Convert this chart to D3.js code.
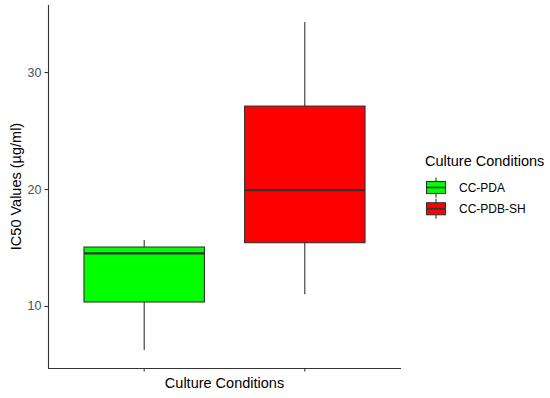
<!DOCTYPE html>
<html>
<head>
<meta charset="utf-8">
<script src="https://cdn.jsdelivr.net/npm/d3@7"></script>
<style>
  body { margin: 0; background: #fff; }
  text { font-family: "Liberation Sans", Arial, sans-serif; }
</style>
</head>
<body>
<div id="chart-area"></div>
<script>
// Datos
const categories = ["CC-PDA", "CC-PDB-SH"];
const colors = ["#00ff00", "#ff0000"];
const whiskerLow = [6.24, 11.0];
const q1 = [10.34, 15.41];
const median = [14.5, 19.9];
const q3 = [15.04, 27.09];
const whiskerHigh = [15.64, 34.27];
const yTicks = [10, 20, 30];

const data = categories.map((c, i) => ({
    name: c, color: colors[i],
    lo: whiskerLow[i], q1: q1[i], med: median[i], q3: q3[i], hi: whiskerHigh[i]
}));

const width = 550, height = 398;
const plotLeft = 48, plotRight = 401, plotTop = 5, plotBottom = 368;

const svg = d3.select("#chart-area")
    .append("svg")
    .attr("width", width)
    .attr("height", height);

// Escalas
const x = d3.scaleBand()
    .domain(categories)
    .range([plotLeft, plotRight])
    .paddingInner(0.25)
    .paddingOuter(0.224);

const xc = d => x(d) + x.bandwidth() / 2;

const y = d3.scaleLinear()
    .domain([4.70, 35.73])
    .range([plotBottom, plotTop]);

const stroke = "#333333";

// Bigotes
svg.selectAll("line.whisker")
    .data(data)
    .enter()
    .append("line")
    .attr("x1", d => xc(d.name))
    .attr("x2", d => xc(d.name))
    .attr("y1", d => y(d.lo))
    .attr("y2", d => y(d.hi))
    .attr("stroke", stroke)
    .attr("stroke-width", 1.1);

// Cajas
svg.selectAll("rect.box")
    .data(data)
    .enter()
    .append("rect")
    .attr("x", d => x(d.name))
    .attr("y", d => y(d.q3))
    .attr("width", x.bandwidth())
    .attr("height", d => y(d.q1) - y(d.q3))
    .attr("fill", d => d.color)
    .attr("stroke", stroke)
    .attr("stroke-width", 1.1);

// Medianas
svg.selectAll("line.median")
    .data(data)
    .enter()
    .append("line")
    .attr("x1", d => x(d.name))
    .attr("x2", d => x(d.name) + x.bandwidth())
    .attr("y1", d => y(d.med))
    .attr("y2", d => y(d.med))
    .attr("stroke", stroke)
    .attr("stroke-width", 2.2);

// Ejes
const yAxis = svg.append("g")
    .attr("transform", `translate(${plotLeft},0)`)
    .call(d3.axisLeft(y).tickValues(yTicks).tickSize(3.5).tickPadding(3));
yAxis.select(".domain").attr("stroke", stroke).attr("stroke-width", 1.1)
    .attr("d", `M0.5,${plotBottom}V${plotTop}`);
yAxis.selectAll(".tick line").attr("stroke", stroke).attr("stroke-width", 1.1);
yAxis.selectAll(".tick text").attr("fill", "#4d4d4d").style("font-size", "12.5px");

const xAxis = svg.append("g")
    .attr("transform", `translate(0,${plotBottom})`)
    .call(d3.axisBottom(x).tickSize(3.5).tickFormat(""));
xAxis.select(".domain").attr("stroke", stroke).attr("stroke-width", 1.1)
    .attr("d", `M${plotLeft},0.5H${plotRight}`);
xAxis.selectAll(".tick line").attr("stroke", stroke).attr("stroke-width", 1.1);

// Títulos
svg.append("text")
    .attr("x", (plotLeft + plotRight) / 2)
    .attr("y", 388)
    .attr("text-anchor", "middle")
    .style("font-size", "14.5px")
    .attr("fill", "#000")
    .text("Culture Conditions");

svg.append("text")
    .attr("transform", `translate(21,${(plotTop + plotBottom) / 2}) rotate(-90)`)
    .attr("text-anchor", "middle")
    .style("font-size", "14.5px")
    .attr("fill", "#000")
    .text("IC50 Values (µg/ml)");

// Leyenda
const legend = svg.append("g").attr("transform", "translate(426,0)");
legend.append("text")
    .attr("x", -1)
    .attr("y", 166)
    .style("font-size", "14.5px")
    .attr("fill", "#000")
    .text("Culture Conditions");

const keyY = d3.scaleBand().domain(categories).range([177.5, 220]).padding(0);

const keys = legend.selectAll("g.key")
    .data(data)
    .enter()
    .append("g")
    .attr("transform", d => `translate(0,${keyY(d.name)})`);

keys.append("line")
    .attr("x1", 10).attr("x2", 10)
    .attr("y1", 0).attr("y2", 20)
    .attr("stroke", stroke).attr("stroke-width", 1.1);
keys.append("rect")
    .attr("x", 0.5).attr("y", 4)
    .attr("width", 19).attr("height", 12)
    .attr("fill", d => d.color)
    .attr("stroke", stroke).attr("stroke-width", 1.1);
keys.append("line")
    .attr("x1", 0.5).attr("x2", 19.5)
    .attr("y1", 10).attr("y2", 10)
    .attr("stroke", stroke).attr("stroke-width", 1.6);
keys.append("text")
    .attr("x", 33)
    .attr("y", 14.5)
    .style("font-size", "12px")
    .attr("fill", "#000")
    .text(d => d.name);
</script>
</body>
</html>
